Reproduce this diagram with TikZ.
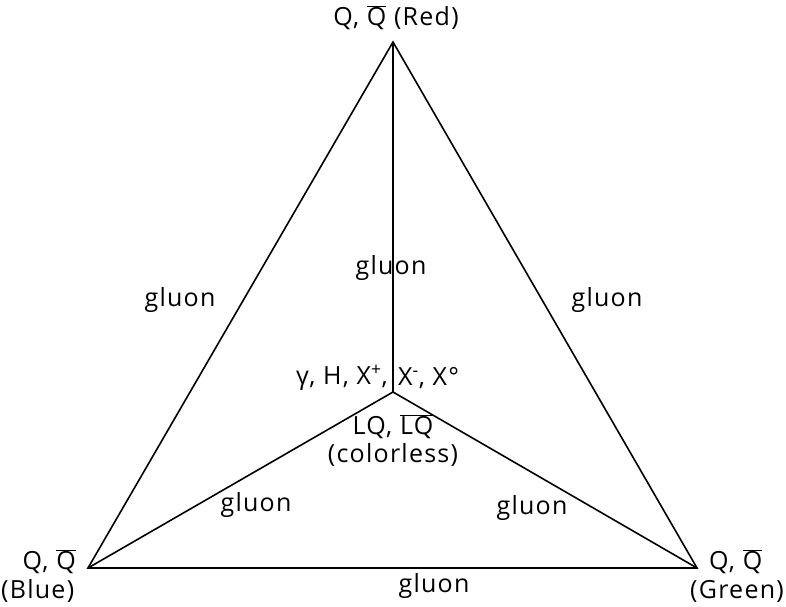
\documentclass[tikz,border=0pt]{standalone}
\usepackage{fontspec}
\setmainfont[LetterSpace=5]{Open Sans}
\usepackage{tikz}
\newcommand{\qbar}[1]{$\overline{\hbox{#1}}$}
\tikzset{
  lbl/.style={font=\fontsize{25}{30}\selectfont,inner sep=0pt,align=center},
  edge/.style={line width=1.6pt,black}
}
\begin{document}
\begin{tikzpicture}[x=1pt,y=-1pt]
\useasboundingbox (0,0) rectangle (786,606);
% vertices
\coordinate (red) at (393,42);
\coordinate (blue) at (88,568);
\coordinate (green) at (697,568);
\coordinate (mid) at (393,392);
\draw[edge] (red) -- (blue) -- (green) -- cycle;
\draw[edge] (red) -- (mid);
\draw[edge] (blue) -- (mid) -- (green);
% charge labels
\node[lbl] (lred) at (396,18) {Q, \qbar{Q} (Red)};
\node[lbl,anchor=east] (lblue) at (76,562) {Q, \qbar{Q}};
\node[lbl,anchor=west] (lblue2) at (1,591) {(Blue)};
\node[lbl,anchor=west] (lgreen) at (709,562) {Q, \qbar{Q}};
\node[lbl,anchor=east] (lgreen2) at (784,591) {(Green)};
% gluons
\node[lbl] (g1) at (391,268) {gluon};
\node[lbl] (g2) at (180,300) {gluon};
\node[lbl] (g3) at (607,300) {gluon};
\node[lbl] (g4) at (256,505) {gluon};
\node[lbl] (g5) at (532,508) {gluon};
\node[lbl] (g6) at (434,586) {gluon};
% centre
\node[lbl,anchor=east] (neu1) at (388,378) {γ, H, X\textsuperscript{+},};
\node[lbl,anchor=west] (neu2) at (398,378) {X\textsuperscript{-}, X°};
\node[lbl] (lq) at (393,427) {LQ, \qbar{LQ}};
\node[lbl] (cl) at (393,455) {(colorless)};
\end{tikzpicture}
\end{document}
